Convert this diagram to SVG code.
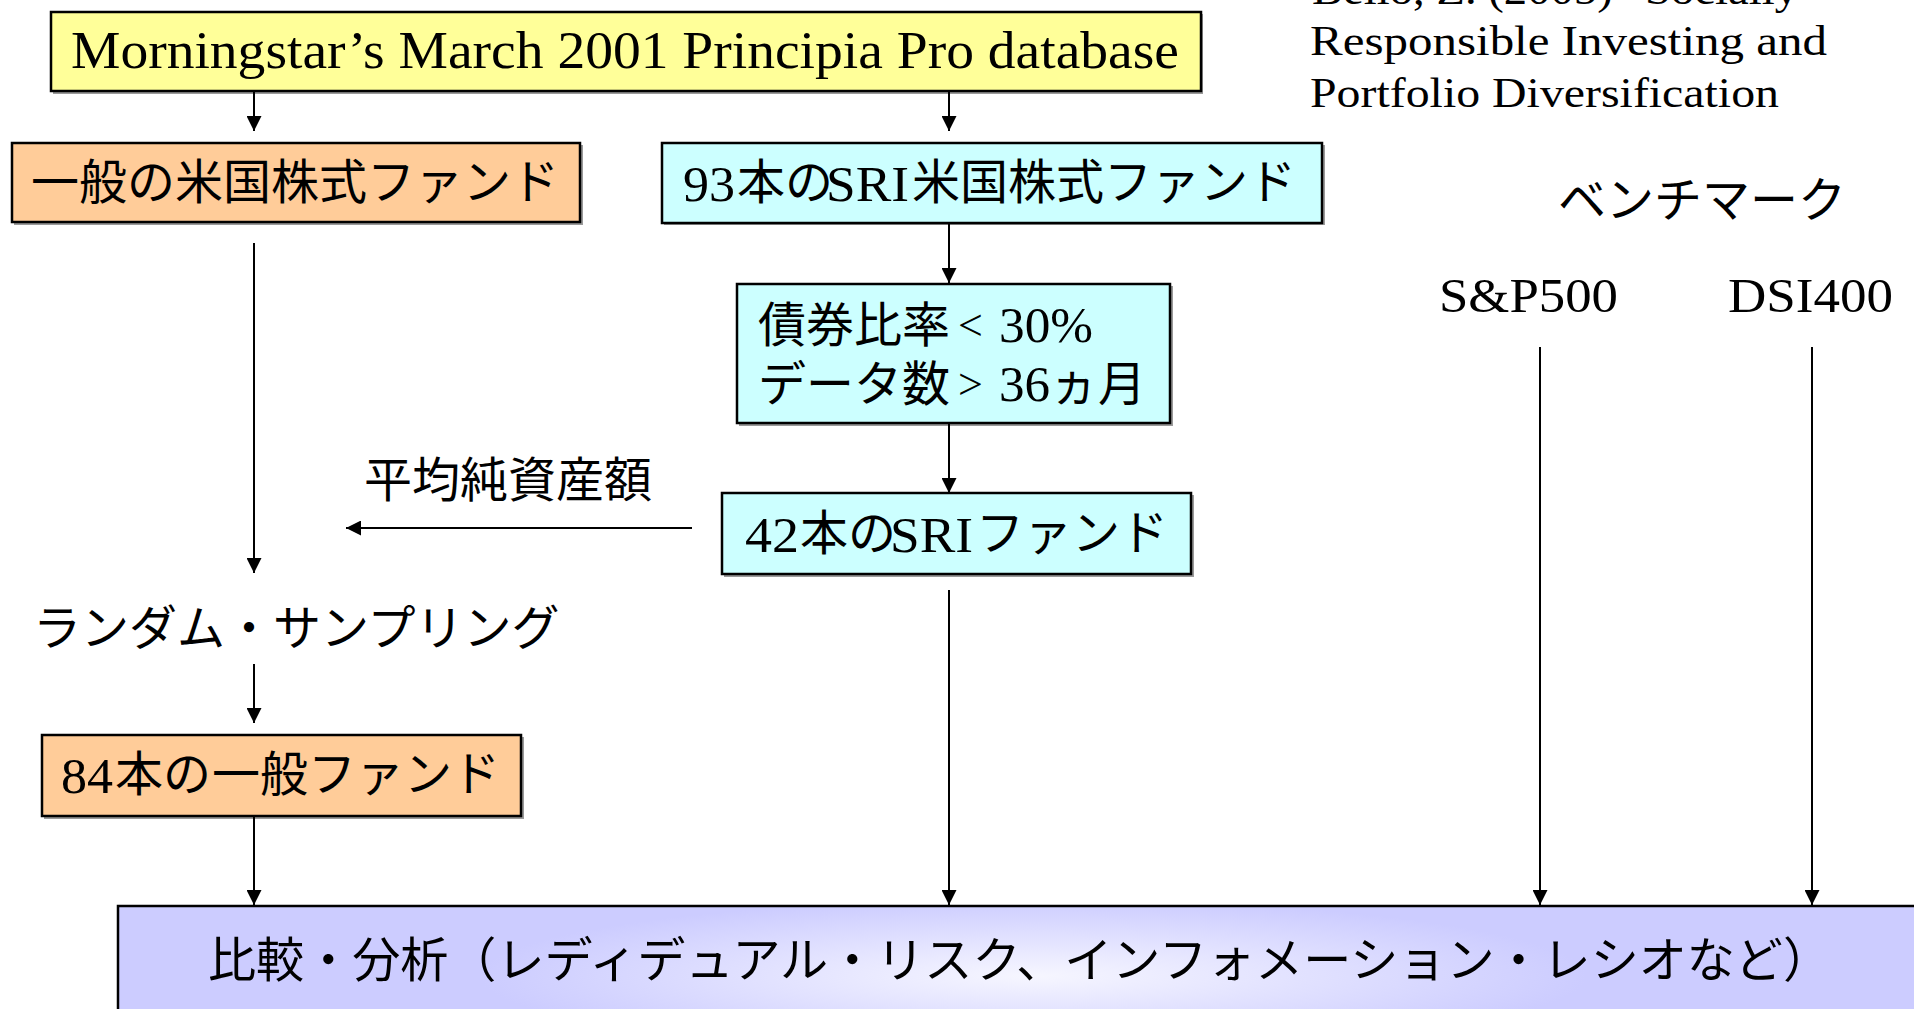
<svg xmlns="http://www.w3.org/2000/svg" width="1914" height="1009" viewBox="0 0 1914 1009">
<style>
.box{stroke:#000;stroke-width:2.5}
.shadow{fill:#9a9a9a}
.jp{font-family:"Noto Sans CJK JP","Noto Sans CJK SC",sans-serif;font-size:48px;fill:#000}
.ser{font-family:"Liberation Serif",serif;fill:#000}
.conn line{stroke:#000;stroke-width:2}
</style>
<defs>
<marker id="ah" markerWidth="15" markerHeight="15" viewBox="0 0 15 15" refX="15" refY="7.5" orient="auto" markerUnits="userSpaceOnUse">
<path d="M0,0 L15,7.5 L0,15 Z" fill="#000"/>
</marker>
<radialGradient id="rg" cx="0.5" cy="0.5" r="0.55" gradientTransform="translate(0.5 0.5) scale(0.55 1) translate(-0.5 -0.5)">
<stop offset="0" stop-color="#f6f6ff"/>
<stop offset="1" stop-color="#ccccff"/>
</radialGradient>
</defs>
<rect width="1914" height="1009" fill="#fff"/>

<g id="n-db">
<rect class="shadow" x="53" y="14" width="1150" height="80"/>
<rect class="box" x="51" y="12" width="1150" height="79" fill="#ffff99"/>
<text class="ser" x="71" y="68" font-size="52" textLength="1108" lengthAdjust="spacingAndGlyphs">Morningstar’s March 2001 Principia Pro database</text>
</g>

<g id="n-cite">
<text class="ser" x="1312" y="4" font-size="42" textLength="486" lengthAdjust="spacingAndGlyphs">Bello, Z. (2005) “Socially</text>
<text class="ser" x="1310" y="55" font-size="42" textLength="517" lengthAdjust="spacingAndGlyphs">Responsible Investing and</text>
<text class="ser" x="1310" y="107" font-size="42" textLength="469" lengthAdjust="spacingAndGlyphs">Portfolio Diversification</text>
</g>

<g id="n-general">
<rect class="shadow" x="14" y="145" width="569" height="80"/>
<rect class="box" x="12" y="143" width="568" height="79" fill="#ffcc99"/>
<text class="jp" x="31" y="199">一般の米国株式ファンド</text>
</g>

<g id="n-sri93">
<rect class="shadow" x="664" y="145" width="661" height="80"/>
<rect class="box" x="662" y="143" width="660" height="80" fill="#ccffff"/>
<text class="ser" x="683" y="201" font-size="50" textLength="52" lengthAdjust="spacingAndGlyphs">93</text>
<text class="jp" x="737" y="199" font-size="41">本の</text>
<text class="ser" x="826" y="201" font-size="50" textLength="83" lengthAdjust="spacingAndGlyphs">SRI</text>
<text class="jp" x="912" y="199">米国株式ファンド</text>
</g>

<g id="n-bench">
<text class="jp" x="1558" y="217" font-size="47">ベンチマーク</text>
</g>

<g id="n-sp500">
<text class="ser" x="1439" y="312" font-size="48" textLength="179" lengthAdjust="spacingAndGlyphs">S&amp;P500</text>
</g>

<g id="n-dsi400">
<text class="ser" x="1728" y="312" font-size="48" textLength="165" lengthAdjust="spacingAndGlyphs">DSI400</text>
</g>

<g id="n-filter">
<rect class="shadow" x="739" y="286" width="434" height="140"/>
<rect class="box" x="737" y="284" width="433" height="139" fill="#ccffff"/>
<text class="jp" x="758" y="342" font-size="47">債券比率</text>
<text class="ser" x="958" y="340" font-size="44">&lt;</text>
<text class="ser" x="999" y="342" font-size="50" textLength="94" lengthAdjust="spacingAndGlyphs">30%</text>
<text class="jp" x="758" y="401" font-size="47">データ数</text>
<text class="ser" x="958" y="399" font-size="44">&gt;</text>
<text class="ser" x="999" y="401" font-size="50" textLength="51" lengthAdjust="spacingAndGlyphs">36</text>
<text class="jp" x="1050" y="401" font-size="47">ヵ月</text>
</g>

<g id="n-sri42">
<rect class="shadow" x="724" y="495" width="470" height="82"/>
<rect class="box" x="722" y="493" width="469" height="81" fill="#ccffff"/>
<text class="ser" x="745" y="552" font-size="50" textLength="54" lengthAdjust="spacingAndGlyphs">42</text>
<text class="jp" x="800" y="550" font-size="40">本の</text>
<text class="ser" x="890" y="552" font-size="50" textLength="83" lengthAdjust="spacingAndGlyphs">SRI</text>
<text class="jp" x="976" y="550" font-size="47">ファンド</text>
</g>

<g id="n-nav">
<text class="jp" x="364" y="497" font-size="47">平均純資産額</text>
</g>

<g id="n-random">
<text class="jp" x="33" y="645" font-size="47.5">ランダム・サンプリング</text>
</g>

<g id="n-general84">
<rect class="shadow" x="44" y="737" width="480" height="82"/>
<rect class="box" x="42" y="735" width="479" height="81" fill="#ffcc99"/>
<text class="ser" x="61" y="793" font-size="50" textLength="52" lengthAdjust="spacingAndGlyphs">84</text>
<text class="jp" x="115" y="791" font-size="46">本の</text>
<text class="jp" x="212" y="791" font-size="47">一般ファンド</text>
</g>

<g id="n-analysis">
<rect class="box" x="118" y="906" width="1830" height="140" fill="url(#rg)"/>
<text class="jp" x="208" y="977" textLength="1623" lengthAdjust="spacingAndGlyphs">比較・分析（レディデュアル・リスク、インフォメーション・レシオなど）</text>
</g>

<g id="connectors" class="conn">
<line x1="254" y1="92" x2="254" y2="131" marker-end="url(#ah)"/>
<line x1="949" y1="92" x2="949" y2="131" marker-end="url(#ah)"/>
<line x1="949" y1="224" x2="949" y2="283" marker-end="url(#ah)"/>
<line x1="949" y1="424" x2="949" y2="493" marker-end="url(#ah)"/>
<line x1="254" y1="243" x2="254" y2="573" marker-end="url(#ah)"/>
<line x1="692" y1="528" x2="346" y2="528" marker-end="url(#ah)"/>
<line x1="254" y1="664" x2="254" y2="723" marker-end="url(#ah)"/>
<line x1="254" y1="817" x2="254" y2="905" marker-end="url(#ah)"/>
<line x1="949" y1="590" x2="949" y2="905" marker-end="url(#ah)"/>
<line x1="1540" y1="347" x2="1540" y2="905" marker-end="url(#ah)"/>
<line x1="1812" y1="347" x2="1812" y2="905" marker-end="url(#ah)"/>
</g>
</svg>
